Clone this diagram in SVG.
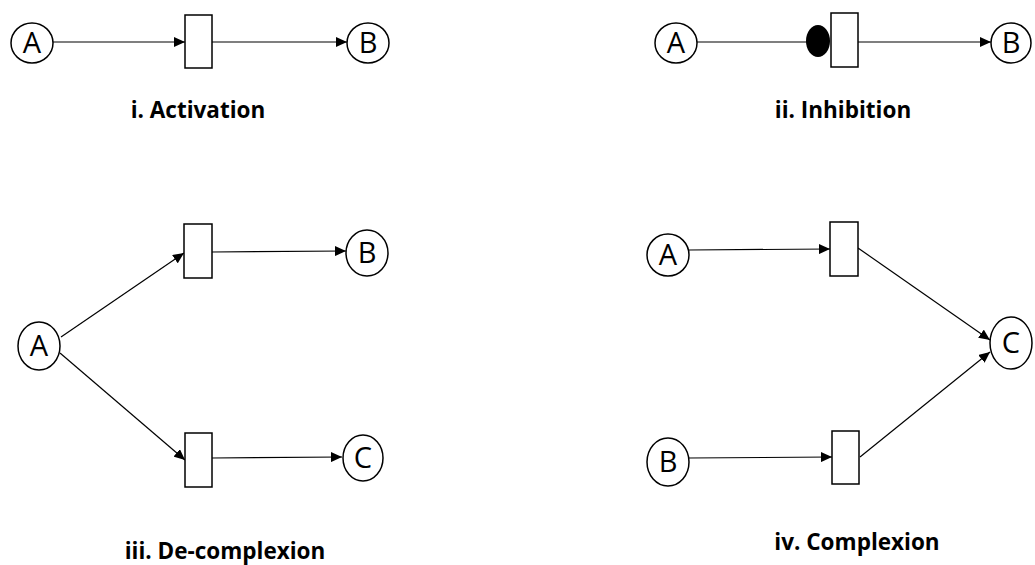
<svg xmlns="http://www.w3.org/2000/svg" width="1035" height="565" viewBox="0 0 1035 565">
  <defs>
    <marker id="arrow" markerWidth="11" markerHeight="10" refX="11" refY="5" orient="auto" markerUnits="userSpaceOnUse">
      <path d="M0,0 L11,5 L0,10 Z" fill="#000"/>
    </marker>
  </defs>
  <style>
    .place { fill: #fff; stroke: #000; stroke-width: 1.5; }
    .trans { fill: #fff; stroke: #000; stroke-width: 1.5; }
    .lbl { font-family: "Open Sans", "Liberation Sans", sans-serif; font-size: 29px; fill: #000; text-anchor: middle; }
    .cap { font-family: "Open Sans", "Liberation Sans", sans-serif; font-size: 22.5px; font-weight: bold; fill: #000; text-anchor: middle; }
    .edge { stroke: #000; stroke-width: 1.2; fill: none; marker-end: url(#arrow); }
  </style>
  <rect width="1035" height="565" fill="#fff"/>

  <!-- connectors -->
  <g id="connectors">
    <!-- i. Activation -->
    <line class="edge" x1="53" y1="42" x2="185" y2="42"/>
    <line class="edge" x1="212" y1="42" x2="347" y2="42"/>
    <!-- ii. Inhibition -->
    <line x1="697" y1="42" x2="808" y2="42" stroke="#000" stroke-width="1.2"/>
    <line class="edge" x1="858" y1="42" x2="991" y2="42"/>
    <!-- iii. De-complexion -->
    <line class="edge" x1="61" y1="337" x2="184" y2="253"/>
    <line class="edge" x1="60" y1="353" x2="185" y2="460"/>
    <line class="edge" x1="212" y1="252" x2="346" y2="251"/>
    <line class="edge" x1="212" y1="458" x2="342" y2="457"/>
    <!-- iv. Complexion -->
    <line class="edge" x1="689" y1="250" x2="830" y2="249"/>
    <line class="edge" x1="689" y1="458" x2="832" y2="457"/>
    <line class="edge" x1="858" y1="248" x2="990" y2="340"/>
    <line class="edge" x1="860" y1="457" x2="990" y2="352"/>
  </g>

  <!-- i. Activation -->
  <g id="act-A"><ellipse class="place" cx="32" cy="43" rx="21" ry="20"/><text class="lbl" x="32" y="53">A</text></g>
  <g id="act-T"><rect class="trans" x="185" y="15" width="27" height="53"/></g>
  <g id="act-B"><ellipse class="place" cx="368" cy="43" rx="21" ry="20"/><text class="lbl" x="368" y="53">B</text></g>
  <text class="cap" x="198" y="118">i. Activation</text>

  <!-- ii. Inhibition -->
  <g id="inh-A"><ellipse class="place" cx="676" cy="43" rx="21" ry="20"/><text class="lbl" x="676" y="53">A</text></g>
  <g id="inh-dot"><ellipse cx="818" cy="41" rx="12" ry="16" fill="#000"/></g>
  <g id="inh-T"><rect class="trans" x="831" y="13" width="27" height="54"/></g>
  <g id="inh-B"><ellipse class="place" cx="1011" cy="43" rx="20" ry="20"/><text class="lbl" x="1011" y="53">B</text></g>
  <text class="cap" x="843" y="118">ii. Inhibition</text>

  <!-- iii. De-complexion -->
  <g id="dec-A"><ellipse class="place" cx="39" cy="346" rx="21" ry="24"/><text class="lbl" x="39" y="356">A</text></g>
  <g id="dec-T1"><rect class="trans" x="184" y="224" width="28" height="54"/></g>
  <g id="dec-T2"><rect class="trans" x="185" y="433" width="27" height="54"/></g>
  <g id="dec-B"><ellipse class="place" cx="367" cy="253" rx="21" ry="23"/><text class="lbl" x="367" y="263">B</text></g>
  <g id="dec-C"><ellipse class="place" cx="363" cy="458" rx="20" ry="23"/><text class="lbl" x="363" y="468">C</text></g>
  <text class="cap" x="225" y="559">iii. De-complexion</text>

  <!-- iv. Complexion -->
  <g id="com-A"><ellipse class="place" cx="668" cy="255" rx="21" ry="21"/><text class="lbl" x="668" y="265">A</text></g>
  <g id="com-B"><ellipse class="place" cx="668" cy="462" rx="21" ry="24"/><text class="lbl" x="668" y="472">B</text></g>
  <g id="com-T1"><rect class="trans" x="830" y="222" width="28" height="54"/></g>
  <g id="com-T2"><rect class="trans" x="832" y="431" width="27" height="53"/></g>
  <g id="com-C"><ellipse class="place" cx="1011" cy="343" rx="21" ry="26"/><text class="lbl" x="1011" y="353">C</text></g>
  <text class="cap" x="857" y="550">iv. Complexion</text>
</svg>
